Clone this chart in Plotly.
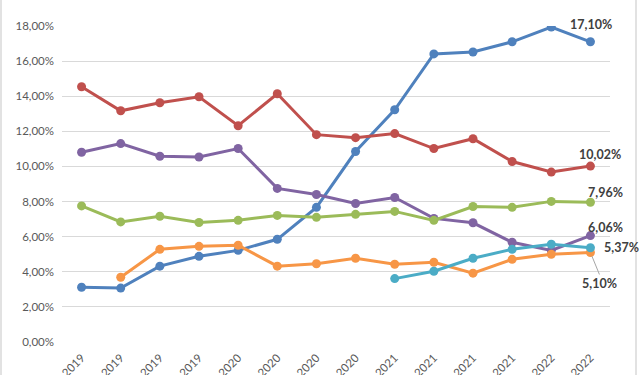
import plotly.graph_objects as go

years = ["2019", "2019", "2019", "2019", "2020", "2020", "2020", "2020",
         "2021", "2021", "2021", "2021", "2022", "2022"]

blue = [3.12, 3.07, 4.32, 4.88, 5.22, 5.85, 7.67, 10.85, 13.23, 16.41, 16.52, 17.10, 17.94, 17.10]
red = [14.54, 13.17, 13.63, 13.97, 12.32, 14.14, 11.81, 11.64, 11.87, 11.02, 11.58, 10.28, 9.68, 10.02]
purple = [10.81, 11.30, 10.58, 10.54, 11.02, 8.75, 8.40, 7.89, 8.23, 7.04, 6.79, 5.68, 5.22, 6.06]
green = [7.75, 6.84, 7.16, 6.81, 6.93, 7.21, 7.10, 7.27, 7.44, 6.93, 7.72, 7.67, 8.01, 7.96]
orange = [None, 3.69, 5.28, 5.45, 5.51, 4.32, 4.46, 4.77, 4.43, 4.54, 3.92, 4.71, 5.00, 5.10]
cyan = [None, None, None, None, None, None, None, None, 3.61, 4.03, 4.77, 5.28, 5.57, 5.37]

y_ticks = [0, 2, 4, 6, 8, 10, 12, 14, 16, 18]
y_tick_labels = ["0,00%", "2,00%", "4,00%", "6,00%", "8,00%", "10,00%",
                 "12,00%", "14,00%", "16,00%", "18,00%"]

series = [
    ("blue", blue, "#4F81BD"),
    ("red", red, "#C0504D"),
    ("purple", purple, "#8064A2"),
    ("green", green, "#9BBB59"),
    ("orange", orange, "#F79646"),
    ("cyan", cyan, "#4BACC6"),
]

xs = list(range(len(years)))
fig = go.Figure()
for name, vals, col in series:
    fig.add_trace(go.Scatter(
        x=xs, y=vals, mode="lines+markers", name=name,
        line=dict(color=col, width=3),
        marker=dict(color=col, size=9),
        connectgaps=False, showlegend=False, hoverinfo="skip",
    ))

def fmt(v):
    return f"{v:.2f}".replace(".", ",") + "%"

last = len(years) - 1
label_font = dict(family="Lato, 'Open Sans', sans-serif", size=12.5, color="#404040")
# (values, xshift, yshift, xanchor)
label_specs = [
    (blue, 1, 17, "center"),
    (red, 10, 12, "center"),
    (green, 15, 10, "center"),
    (purple, 15, 8, "center"),
    (cyan, 12, 0, "left"),
]
for vals, xs_, ys_, xa in label_specs:
    fig.add_annotation(
        x=last, y=vals[last], xref="x", yref="y", text="<b>" + fmt(vals[last]) + "</b>",
        showarrow=False, xshift=xs_, yshift=ys_, xanchor=xa, yanchor="middle",
        font=label_font,
    )
fig.add_annotation(
    x=last, y=orange[last], xref="x", yref="y", text="<b>" + fmt(orange[last]) + "</b>",
    showarrow=True, arrowhead=0, arrowwidth=1, arrowcolor="#A6A6A6",
    ax=9, ay=22, standoff=4, font=label_font, yanchor="top",
)

# chart border lines
for px in [(1 - 62) / 548, (636 - 62) / 548]:
    fig.add_shape(type="line", xref="paper", yref="paper", x0=px, x1=px, y0=-0.2, y1=1.2,
                  line=dict(color="#D9D9D9", width=1.5))

fig.update_layout(
    width=640, height=375,
    margin=dict(l=62, r=30, t=26, b=33),
    paper_bgcolor="white", plot_bgcolor="white",
    font=dict(family="Lato, 'Open Sans', sans-serif", size=12, color="#595959"),
)
fig.update_xaxes(
    tickmode="array", tickvals=xs, ticktext=years, tickangle=-45,
    range=[-0.5, len(years) - 0.5], showgrid=False, zeroline=False,
    showline=False, ticks="", automargin=False, ticklabelstandoff=6,
    tickfont=dict(size=11.5, color="#595959"),
)
fig.update_yaxes(
    range=[0, 18], tickmode="array", tickvals=y_ticks, ticktext=y_tick_labels,
    showgrid=True, gridcolor="#D9D9D9", gridwidth=1,
    zeroline=False, showline=False, ticks="", automargin=False, ticklabelstandoff=7,
    tickfont=dict(size=11.5, color="#595959"),
)

fig.write_html(
    "out.html",
    config={"displayModeBar": False, "staticPlot": True},
    post_script="document.body.style.margin='0px';document.body.style.overflow='hidden';",
)
